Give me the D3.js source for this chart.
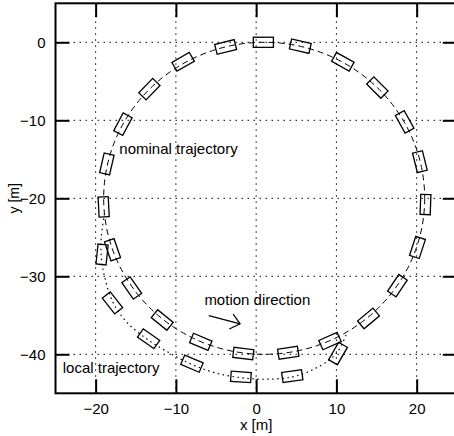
<!DOCTYPE html>
<html>
<head>
<meta charset="utf-8">
<script src="https://cdn.jsdelivr.net/npm/d3@7/dist/d3.min.js"></script>
<style>
    html, body { margin: 0; padding: 0; background: #fff; }
    svg { display: block; }
    text { font-family: 'Liberation Sans', Arial, sans-serif; fill: #000; }
</style>
</head>
<body>
<svg id="chart"></svg>
<script>
// axis ticks
const xTicks = [-20, -10, 0, 10, 20];
const yTicks = [0, -10, -20, -30, -40];

// nominal trajectory: circle (center, radius) in metres
const nominalCenter = [1, -20];
const nominalRadius = 20;

// cars along the nominal trajectory (x, y in m, heading in deg)
const nominalCarX = [0.9, -3.8, -9.1, -13.3, -16.6, -18.6, -19.0, -17.9, -15.5, -11.7, -6.9, -1.6, 4.0, 9.2, 14.0, 17.6, 20.1, 21.1, 20.4, 18.5, 15.1, 10.8, 5.5];
const nominalCarY = [0.0, -0.6, -2.5, -6.0, -10.5, -15.6, -21.1, -26.6, -31.5, -35.6, -38.4, -39.9, -39.8, -38.3, -35.4, -31.2, -26.3, -20.8, -15.3, -10.2, -5.8, -2.5, -0.5];
const nominalCarHeading = [180, 194, 210, 226, 242, 257, 273, 289, 305, 321, 337, 353, 9, 24, 40, 56, 72, 88, 104, 119, 135, 151, 167];

// cars along the local trajectory
const localCarX = [-19.2, -17.9, -13.4, -8.0, -1.9, 4.5, 10.2];
const localCarY = [-27.2, -33.4, -38.0, -41.2, -42.9, -42.8, -39.9];
const localCarHeading = [264, 308, 325, 337, 356, 8, 60];

// local trajectory points
const localPathX = [-18.9, -19.3, -19.3, -18.9, -17.9, -16.2, -13.4, -10.5, -8.0, -5.0, -1.9, 1.0, 4.5, 7.0, 9.0, 10.2, 11.3];
const localPathY = [-22.0, -25.0, -27.5, -30.0, -33.2, -35.8, -38.2, -40.0, -41.3, -42.4, -43.0, -43.2, -42.9, -42.0, -40.8, -39.6, -37.3];

// motion direction arrow (tail, tip)
const arrowX = [-5.9, -2.0];
const arrowY = [-35.05, -36.1];

const carLength = 2.5;
const carWidth = 1.3;

const W = 454, H = 436;
const x = d3.scaleLinear().domain([-25, 25]).range([55.5, 456.8]);
const y = d3.scaleLinear().domain([-45, 5]).range([393.3, 3.3]);

const svg = d3.select('#chart').attr('width', W).attr('height', H);

// Grid lines
const grid = svg.append('g')
    .attr('stroke', '#000')
    .attr('stroke-width', 1)
    .attr('stroke-dasharray', '1.5,4.5');
grid.selectAll('.gx')
    .data(xTicks)
    .enter()
    .append('line')
    .attr('x1', d => x(d)).attr('x2', d => x(d))
    .attr('y1', y(5)).attr('y2', y(-45));
grid.selectAll('.gy')
    .data(yTicks)
    .enter()
    .append('line')
    .attr('y1', d => y(d)).attr('y2', d => y(d))
    .attr('x1', x(-25)).attr('x2', x(25));

// Nominal trajectory (dashed circle)
svg.append('ellipse')
    .attr('cx', x(nominalCenter[0]))
    .attr('cy', y(nominalCenter[1]))
    .attr('rx', x(nominalCenter[0] + nominalRadius) - x(nominalCenter[0]))
    .attr('ry', y(nominalCenter[1]) - y(nominalCenter[1] + nominalRadius))
    .attr('fill', 'none')
    .attr('stroke', '#000')
    .attr('stroke-width', 1)
    .attr('stroke-dasharray', '6,4');

// Local trajectory (dotted)
const localPath = localPathX.map((d, i) => [d, localPathY[i]]);
svg.append('path')
    .datum(localPath)
    .attr('d', d3.line().x(d => x(d[0])).y(d => y(d[1])).curve(d3.curveCatmullRom))
    .attr('fill', 'none')
    .attr('stroke', '#000')
    .attr('stroke-width', 1.2)
    .attr('stroke-dasharray', '1.5,3.5');

// Cars
const carL = x(carLength) - x(0);
const carW = y(0) - y(carWidth);
const cars = nominalCarX.map((d, i) => ({ x: d, y: nominalCarY[i], h: nominalCarHeading[i] }))
    .concat(localCarX.map((d, i) => ({ x: d, y: localCarY[i], h: localCarHeading[i] })));

svg.selectAll('.car')
    .data(cars)
    .enter()
    .append('rect')
    .attr('class', 'car')
    .attr('x', -carL / 2)
    .attr('y', -carW / 2)
    .attr('width', carL)
    .attr('height', carW)
    .attr('transform', d => `translate(${x(d.x)},${y(d.y)}) rotate(${-d.h})`)
    .attr('fill', 'none')
    .attr('stroke', '#000')
    .attr('stroke-width', 1.3);

// Motion arrow
const ax0 = x(arrowX[0]), ay0 = y(arrowY[0]);
const ax1 = x(arrowX[1]), ay1 = y(arrowY[1]);
const ang = Math.atan2(ay1 - ay0, ax1 - ax0);
const headLen = 12, spread = 40 * Math.PI / 180;
const arrow = svg.append('g').attr('stroke', '#000').attr('stroke-width', 1.2).attr('fill', 'none');
arrow.append('line').attr('x1', ax0).attr('y1', ay0).attr('x2', ax1).attr('y2', ay1);
arrow.append('path')
    .attr('d', `M${ax1 - headLen * Math.cos(ang - spread)},${ay1 - headLen * Math.sin(ang - spread)}L${ax1},${ay1}L${ax1 - headLen * Math.cos(ang + spread)},${ay1 - headLen * Math.sin(ang + spread)}`);

// Annotations
svg.append('text').attr('x', x(-17.05)).attr('y', y(-14.3)).attr('font-size', '15px').text('nominal trajectory');
svg.append('text').attr('x', x(-24.1)).attr('y', y(-42.4)).attr('font-size', '15px').text('local trajectory');
svg.append('text').attr('x', x(-6.45)).attr('y', y(-33.7)).attr('font-size', '15px').text('motion direction');

// Axes (ticks pointing inward)
const styleAxis = g => {
    g.select('.domain').remove();
    g.selectAll('.tick line').attr('stroke', '#000').attr('stroke-width', 2);
    g.selectAll('.tick text').attr('font-size', '15px').attr('font-family', "'Liberation Sans', Arial, sans-serif").attr('fill', '#000');
};

svg.append('g')
    .attr('transform', `translate(0,${y(-45)})`)
    .call(d3.axisBottom(x).tickValues(xTicks).tickSize(-14).tickPadding(10).tickFormat(d3.format('d')))
    .call(styleAxis);

svg.append('g')
    .attr('transform', `translate(${x(-25)},0)`)
    .call(d3.axisLeft(y).tickValues(yTicks).tickSize(-14).tickPadding(10).tickFormat(d3.format('d')))
    .call(styleAxis);

svg.append('g')
    .attr('transform', `translate(0,${y(5)})`)
    .call(d3.axisTop(x).tickValues(xTicks).tickSize(-14).tickFormat(''))
    .call(styleAxis);

svg.append('g')
    .attr('transform', `translate(${x(25)},0)`)
    .call(d3.axisRight(y).tickValues(yTicks).tickSize(-14).tickFormat(''))
    .call(styleAxis);

// Frame
svg.append('rect')
    .attr('x', x(-25))
    .attr('y', y(5))
    .attr('width', x(25) - x(-25))
    .attr('height', y(-45) - y(5))
    .attr('fill', 'none')
    .attr('stroke', '#000')
    .attr('stroke-width', 2);

// Axis labels
svg.append('text')
    .attr('x', x(0))
    .attr('y', 430)
    .attr('text-anchor', 'middle')
    .attr('font-size', '15px')
    .text('x [m]');

svg.append('text')
    .attr('transform', `translate(19,${(y(5) + y(-45)) / 2}) rotate(-90)`)
    .attr('text-anchor', 'middle')
    .attr('font-size', '14px')
    .text('y [m]');
</script>
</body>
</html>
